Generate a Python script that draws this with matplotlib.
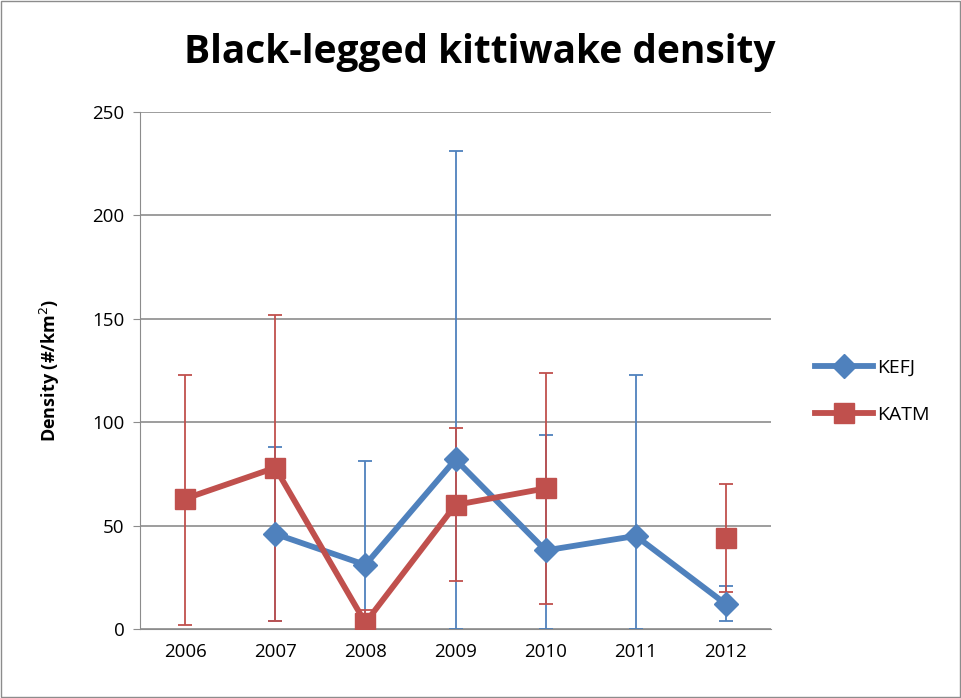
import matplotlib.pyplot as plt
import numpy as np

years = ['2006', '2007', '2008', '2009', '2010', '2011', '2012']

# KEFJ (nan = no survey)
kefj = [np.nan, 46, 31, 82, 38, 45, 12]
kefj_hi = [np.nan, 88, 81, 231, 94, 123, 21]
kefj_lo = [np.nan, 4, 0, 0, 0, 0, 4]

# KATM
katm = [63, 78, 3, 60, 68, np.nan, 44]
katm_hi = [123, 152, 9, 97, 124, np.nan, 70]
katm_lo = [2, 4, 0, 23, 12, np.nan, 18]

blue = '#4F81BD'
red = '#C0504D'

plt.rcParams['font.family'] = ['Open Sans', 'DejaVu Sans']

fig = plt.figure(figsize=(9.61, 6.98), dpi=100)
ax = fig.add_axes([140/961, 1-629/698, 631/961, 517/698])

x = np.arange(len(years))

def draw(vals, hi, lo, color, marker, ms, label):
    vals = np.array(vals, dtype=float)
    err = np.array([vals - np.array(lo, dtype=float), np.array(hi, dtype=float) - vals])
    ax.errorbar(x, vals, yerr=err, fmt='none', ecolor=color, elinewidth=1.3,
                capsize=5, capthick=1.3, zorder=2)
    ax.plot(x, vals, color=color, lw=4.2, marker=marker, ms=ms, label=label,
            zorder=3)

draw(kefj, kefj_hi, kefj_lo, blue, 'D', 12, 'KEFJ')
draw(katm, katm_hi, katm_lo, red, 's', 15, 'KATM')

ax.set_xlim(-0.5, 6.5)
ax.set_ylim(0, 250)
ax.set_yticks(range(0, 251, 50))
ax.set_xticks(x)
ax.set_xticklabels(years)
ax.yaxis.grid(True, color='#8C8C8C', lw=1.2)
ax.set_axisbelow(True)
for s in ['top', 'right']:
    ax.spines[s].set_visible(False)
ax.spines['left'].set_color('#8C8C8C')
ax.spines['bottom'].set_color('#8C8C8C')
ax.tick_params(axis='both', labelsize=13.5, length=0, pad=10)
ax.tick_params(axis='y', length=5, color='#8C8C8C', pad=6)
ax.set_ylabel('Density (#/km$^2$)', fontsize=13, fontweight='bold', labelpad=22)

fig.text(480/961, 1-52/698, 'Black-legged kittiwake density', ha='center', va='center',
         fontsize=28, fontweight='bold')

ax.legend(loc='center left', bbox_to_anchor=(1.042, 0.46), frameon=False,
          fontsize=14, handlelength=3.0, labelspacing=1.5, handletextpad=0.2)

fig.add_artist(plt.Rectangle((0.001, 0.001), 0.998, 0.998, transform=fig.transFigure,
                             fill=False, edgecolor='#8C8C8C', lw=1))

fig.savefig('out.png', dpi=100)
